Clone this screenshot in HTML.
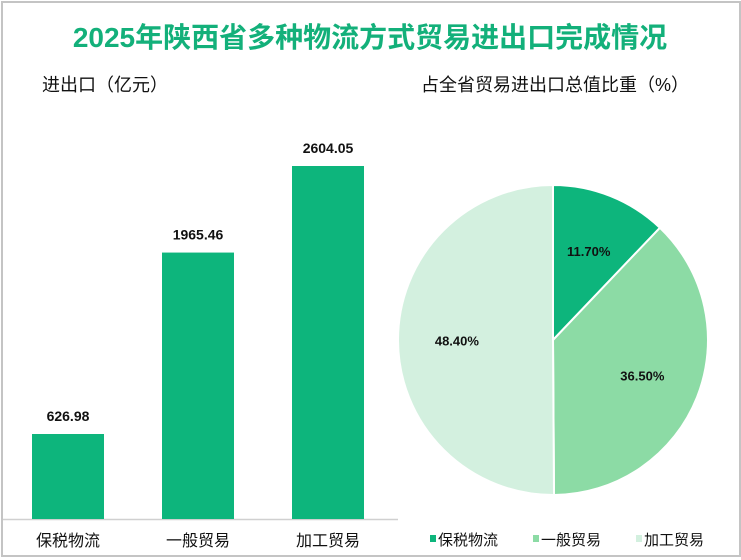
<!DOCTYPE html>
<html><head><meta charset="utf-8">
<style>
body{margin:0;width:741px;height:560px;background:#fff;font-family:"Liberation Sans","Noto Sans CJK SC",sans-serif;overflow:hidden}
#frame{position:absolute;left:1px;top:1px;width:736px;height:552px;border:2px solid #c4c4c4;box-sizing:content-box}
</style></head><body>
<div id="frame"></div>
<svg width="741" height="560" style="position:absolute;left:0;top:0">
<text x="370" y="47" text-anchor="middle" font-size="28" font-weight="bold" fill="#13b07a" font-family="Liberation Sans,Noto Sans CJK SC,sans-serif">2025年陕西省多种物流方式贸易进出口完成情况</text>
<text x="42" y="91" font-size="18" fill="#111" font-family="Liberation Sans,Noto Sans CJK SC,sans-serif">进出口（亿元）</text>
<text x="555" y="91" text-anchor="middle" font-size="18" fill="#111" font-family="Liberation Sans,Noto Sans CJK SC,sans-serif">占全省贸易进出口总值比重（%）</text>
<line x1="3" y1="519.5" x2="398" y2="519.5" stroke="#d0d0d0" stroke-width="1.5"/>
<g id="bars"></g><g id="pie"></g><g id="legend"></g>
</svg>
<script>
const categories=["保税物流","一般贸易","加工贸易"];
const barValues=[626.98,1965.46,2604.05];
const barLabels=["626.98","1965.46","2604.05"];
const pieValues=[11.70,36.50,48.40];
const pieLabels=["11.70%","36.50%","48.40%"];
const NS="http://www.w3.org/2000/svg";
const colors=["#0db57c","#8cdba5","#d3f0df"];
function mk(t,a,p){const e=document.createElementNS(NS,t);for(const k in a)e.setAttribute(k,a[k]);p.appendChild(e);return e;}
const base=519,scale=353/2604.05;
const y=v=>base-v*scale;
const xc=i=>68+i*130;
const bars=document.getElementById('bars');
categories.forEach((c,i)=>{
 const r=mk('rect',{x:xc(i)-36,y:y(barValues[i]),width:72,height:base-y(barValues[i]),fill:colors[0]},bars);
 
 
 const t=mk('text',{x:xc(i),y:y(barValues[i])-13,'text-anchor':'middle','font-size':14,'font-weight':'bold',fill:'#111'},bars);
 t.textContent=barLabels[i];
 
 
 const l=mk('text',{x:xc(i),y:546,'text-anchor':'middle','font-size':16,fill:'#111'},bars);
 l.textContent=c;
 
 
});
const pie=document.getElementById('pie');
const cx=553,cy=340,R=155;
const tot=pieValues.reduce((a,b)=>a+b,0);
let a0=0;
pieValues.forEach((v,i)=>{
 const a1=a0+v/tot*2*Math.PI;
 const p=(a)=>[cx+R*Math.sin(a),cy-R*Math.cos(a)];
 const [x0,y0]=p(a0),[x1,y1]=p(a1);
 const s=mk('path',{d:`M${cx},${cy}L${x0},${y0}A${R},${R} 0 ${a1-a0>Math.PI?1:0} 1 ${x1},${y1}Z`,fill:colors[i],stroke:'#fff','stroke-width':2},pie);
 
 
 const am=(a0+a1)/2,rr=R*0.62;
 const t=mk('text',{x:cx+rr*Math.sin(am),y:cy-rr*Math.cos(am)+5,'text-anchor':'middle','font-size':13,'font-weight':'bold',fill:'#111'},pie);
 t.textContent=pieLabels[i];
 
 
 a0=a1;
});
const lg=document.getElementById('legend');
categories.forEach((c,i)=>{
 const x=430+i*103;
 const g=mk('g',{},lg);
 
 
 mk('rect',{x:x,y:535,width:6,height:7,fill:colors[i]},g);
 const t=mk('text',{x:x+8,y:545,'font-size':15,fill:'#111'},g);
 t.textContent=c;
});
</script>
</body></html>
